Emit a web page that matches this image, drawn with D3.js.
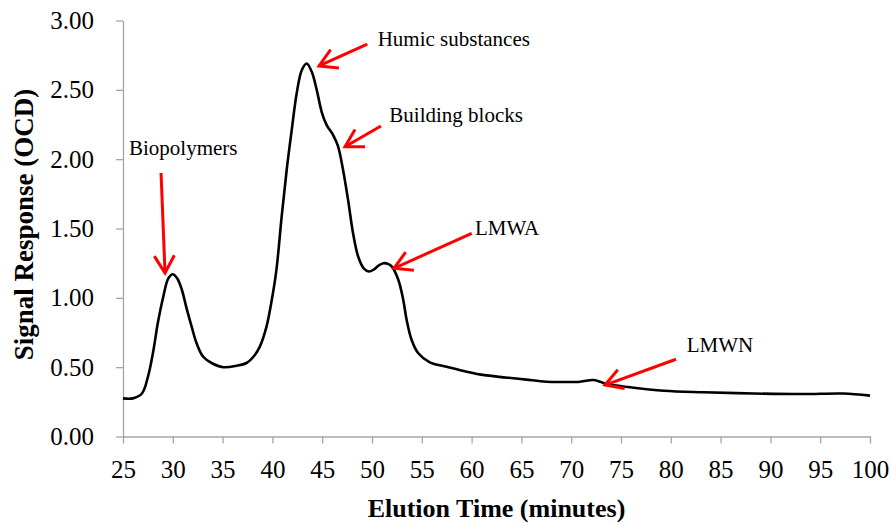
<!DOCTYPE html>
<html>
<head>
<meta charset="utf-8">
<script src="https://cdn.jsdelivr.net/npm/d3@7"></script>
<style>
  body { margin: 0; background: #fff; }
  text { font-family: "Liberation Serif", "Times New Roman", serif; }
</style>
</head>
<body>
<div id="chart"></div>
<script>
const WIDTH = 891;
const HEIGHT = 525;

// elution time (minutes) and OCD signal
const times = [25, 26, 26.9, 27.5, 28.05, 28.5, 29.05, 29.55, 30.0, 30.45, 30.9, 31.4, 31.9, 32.4,
  33.05, 33.9, 35.05, 36.4, 37.4, 38.1, 38.75, 39.4, 39.95, 40.4, 40.93, 41.43, 41.94, 42.44,
  42.94, 43.44, 43.95, 44.45, 44.95, 45.45, 46.1, 46.6, 47.1, 47.6, 48.1, 48.6, 49.17, 49.7,
  50.2, 50.7, 51.15, 51.6, 52.0, 52.64, 53.14, 53.48, 53.98, 54.65, 55.8, 57.5, 59.5, 60.8,
  62.8, 64.2, 65.5, 67.5, 69.0, 70.9, 72.2, 72.9, 73.6, 75.9, 79.3, 83.3, 88.3, 93.3, 97.3, 100];
const signal = [0.275, 0.275, 0.31, 0.43, 0.62, 0.82, 1.01, 1.14, 1.17, 1.14, 1.06, 0.92, 0.79, 0.67,
  0.575, 0.53, 0.5, 0.51, 0.53, 0.575, 0.65, 0.79, 0.99, 1.2, 1.585, 1.92, 2.21, 2.475,
  2.64, 2.69, 2.63, 2.5, 2.34, 2.246, 2.174, 2.09, 1.92, 1.705, 1.465, 1.3, 1.213, 1.19,
  1.205, 1.235, 1.25, 1.245, 1.225, 1.13, 0.985, 0.84, 0.696, 0.6, 0.535, 0.503, 0.467, 0.448,
  0.43, 0.42, 0.41, 0.395, 0.393, 0.395, 0.407, 0.395, 0.378, 0.355, 0.33, 0.319, 0.31, 0.306, 0.31, 0.295];

const xTicks = d3.range(25, 101, 5);
const yTicks = [0, 0.5, 1, 1.5, 2, 2.5, 3];

// annotations: label, label anchor (t, v), arrow tail (t, v), arrow tip (t, v)
const labels = ["Biopolymers", "Humic substances", "Building blocks", "LMWA", "LMWN"];
const labelPos = [[25.6, 2.03], [50.57, 2.816], [51.74, 2.266], [60.34, 1.453], [81.6, 0.607]];
const arrowTail = [[28.82, 1.9], [49.53, 2.83], [50.9, 2.239], [60.01, 1.465], [80.52, 0.557]];
const arrowTip = [[29.22, 1.179], [44.68, 2.672], [47.29, 2.09], [52.21, 1.213], [73.39, 0.371]];

const svg = d3.select("#chart").append("svg")
  .attr("width", WIDTH)
  .attr("height", HEIGHT);

const x = d3.scaleLinear().domain([25, 100]).range([123, 870]);
const y = d3.scaleLinear().domain([0, 3]).range([436.5, 20.5]);

const axisColor = "#a6a6a6";

const yAxis = svg.append("g")
  .attr("transform", `translate(${x(25)},0)`)
  .call(d3.axisLeft(y).tickValues(yTicks).tickFormat(d3.format(".2f"))
    .tickSize(7).tickSizeOuter(0).tickPadding(22));

const xAxis = svg.append("g")
  .attr("transform", `translate(0,${y(0)})`)
  .call(d3.axisBottom(x).tickValues(xTicks).tickFormat(d3.format("d"))
    .tickSize(7).tickSizeOuter(0).tickPadding(17));

[xAxis, yAxis].forEach((g) => {
  g.select(".domain").attr("stroke", axisColor).attr("stroke-width", 1.3);
  g.selectAll(".tick line").attr("stroke", axisColor).attr("stroke-width", 1.3);
  g.selectAll(".tick text")
    .attr("fill", "#000")
    .style("font-family", "'Liberation Serif', serif")
    .style("font-size", "25px");
});

svg.append("text")
  .attr("x", (x(25) + x(100)) / 2)
  .attr("y", 517)
  .attr("text-anchor", "middle")
  .attr("font-weight", "bold")
  .attr("font-size", "26px")
  .text("Elution Time (minutes)");

svg.append("text")
  .attr("transform", `translate(33,${(y(0) + y(3)) / 2 - 4}) rotate(-90)`)
  .attr("text-anchor", "middle")
  .attr("font-weight", "bold")
  .attr("font-size", "27px")
  .text("Signal Response (OCD)");

const points = times.map((t, i) => [t, signal[i]]);
const line = d3.line()
  .x((d) => x(d[0]))
  .y((d) => y(d[1]))
  .curve(d3.curveCatmullRom.alpha(0.5));

svg.append("path")
  .attr("d", line(points))
  .attr("fill", "none")
  .attr("stroke", "#000")
  .attr("stroke-width", 2.6)
  .attr("stroke-linejoin", "round");

// arrows
const HEAD = 20;
const SPREAD = Math.PI / 6;
labels.forEach((label, i) => {
  const x0 = x(arrowTail[i][0]), y0 = y(arrowTail[i][1]);
  const x1 = x(arrowTip[i][0]), y1 = y(arrowTip[i][1]);
  const ang = Math.atan2(y0 - y1, x0 - x1);
  const a1 = [x1 + HEAD * Math.cos(ang - SPREAD), y1 + HEAD * Math.sin(ang - SPREAD)];
  const a2 = [x1 + HEAD * Math.cos(ang + SPREAD), y1 + HEAD * Math.sin(ang + SPREAD)];
  const g = svg.append("g")
    .attr("stroke", "#ff0000")
    .attr("stroke-width", 3)
    .attr("fill", "none");
  g.append("line").attr("x1", x0).attr("y1", y0).attr("x2", x1).attr("y2", y1);
  g.append("path")
    .attr("d", `M${a1[0]},${a1[1]}L${x1},${y1}L${a2[0]},${a2[1]}`)
    .attr("stroke-linejoin", "miter");

  svg.append("text")
    .attr("x", x(labelPos[i][0]))
    .attr("y", y(labelPos[i][1]))
    .attr("font-size", "21px")
    .attr("fill", "#000")
    .text(label);
});
</script>
</body>
</html>
